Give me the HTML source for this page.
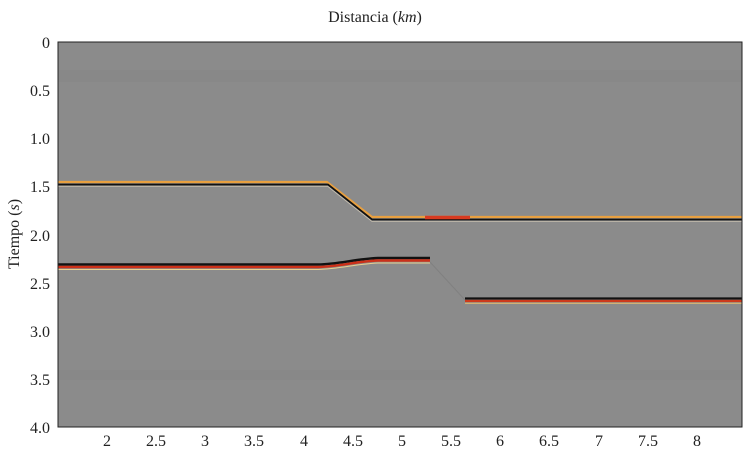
<!DOCTYPE html>
<html><head><style>
body{margin:0;background:#fff;width:750px;height:452px;overflow:hidden}
svg text{font-family:"Liberation Serif",serif;fill:#222}
</style></head><body>
<svg width="750" height="452" xmlns="http://www.w3.org/2000/svg">
<rect x="58" y="42" width="684" height="385" fill="#8b8b8b"/>
<rect x="58" y="70" width="684" height="12" fill="#878787" opacity="0.6"/>
<rect x="58" y="370" width="684" height="10" fill="#858585" opacity="0.5"/>
<g fill="none">
<path d="M58,182 L327,182 L372,217 L742,217" stroke="#e8a040" stroke-width="2.2"/>
<path d="M58,184.5 L328,184.5 L372,219.5 L742,219.5" stroke="#111" stroke-width="1.8"/>
<path d="M58,186.5 L328,186.5 L372,221.5 L742,221.5" stroke="#c8c0b0" stroke-width="0.8"/>
<path d="M425,217.5 L470,217.5" stroke="#d83a20" stroke-width="3.5"/>
<path d="M58,264.5 L318,264.5 C340,264 355,259 378,258 L430,258" stroke="#111" stroke-width="2.5"/>
<path d="M58,267 L318,267 C340,266.5 355,261.5 378,260.5 L430,260.5" stroke="#cc3018" stroke-width="2.5"/>
<path d="M58,269.5 L318,269.5 C340,269 355,264 378,263 L430,263" stroke="#e8d090" stroke-width="1"/>
<path d="M465,298.5 L742,298.5" stroke="#111" stroke-width="2.2"/>
<path d="M465,301 L742,301" stroke="#cc3a1c" stroke-width="2.2"/>
<path d="M465,303.2 L742,303.2" stroke="#e8c070" stroke-width="1"/>
<path d="M430,262 L465,300" stroke="#7a7a7a" stroke-width="1" opacity="0.6"/>
</g>
<rect x="58" y="42" width="684" height="385" fill="none" stroke="#222" stroke-width="1"/>
<text x="375" y="22" font-size="16" text-anchor="middle">Distancia (<tspan font-style="italic">km</tspan>)</text>
<g font-size="16" text-anchor="end">
<text x="50" y="48">0</text><text x="50" y="96">0.5</text><text x="50" y="144">1.0</text>
<text x="50" y="192">1.5</text><text x="50" y="241">2.0</text><text x="50" y="289">2.5</text>
<text x="50" y="337">3.0</text><text x="50" y="385">3.5</text><text x="50" y="433">4.0</text>
</g>
<text transform="translate(19,234) rotate(-90)" font-size="16" text-anchor="middle">Tiempo (<tspan font-style="italic">s</tspan>)</text>
<g font-size="16" text-anchor="middle">
<text x="107" y="446">2</text><text x="156" y="446">2.5</text><text x="205" y="446">3</text>
<text x="254" y="446">3.5</text><text x="304" y="446">4</text><text x="353" y="446">4.5</text>
<text x="402" y="446">5</text><text x="451" y="446">5.5</text><text x="500" y="446">6</text>
<text x="549" y="446">6.5</text><text x="599" y="446">7</text><text x="648" y="446">7.5</text>
<text x="697" y="446">8</text>
</g>
</svg>
</body></html>
